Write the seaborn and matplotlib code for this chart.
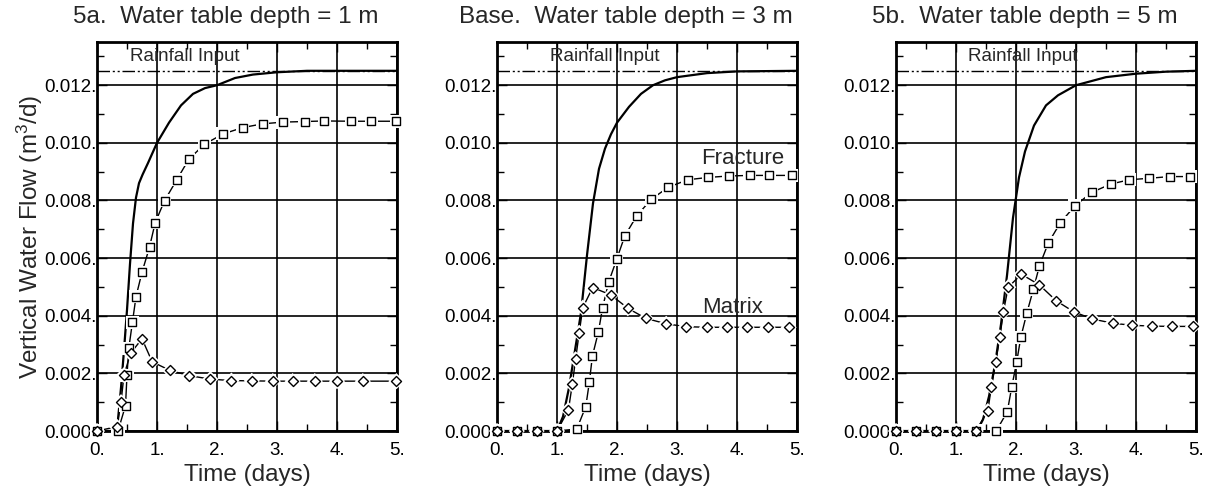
import numpy as np
import pandas as pd
import matplotlib
matplotlib.use("Agg")
import matplotlib.pyplot as plt
import seaborn as sns

# ---------------- data ----------------
titles = ["5a.  Water table depth = 1 m", "Base.  Water table depth = 3 m", "5b.  Water table depth = 5 m"]
rainfall = 0.0125

# total (solid) curves
tot_x_a = [0, 0.30, 0.35, 0.40, 0.45, 0.50, 0.55, 0.60, 0.65, 0.70, 0.76, 0.85, 1.0, 1.2, 1.4, 1.6, 1.8, 2.0, 2.3, 2.6, 3.0, 3.5, 4.0, 5.0]
tot_y_a = [0, 0, 0.0004, 0.0015, 0.0028, 0.0042, 0.0058, 0.0072, 0.0081, 0.0086, 0.0089, 0.0093, 0.0100, 0.0107, 0.0113, 0.0117, 0.0119, 0.0120, 0.01225, 0.01237, 0.01245, 0.0125, 0.0125, 0.0125]
tot_x_b = [0, 1.0, 1.1, 1.2, 1.3, 1.4, 1.5, 1.6, 1.7, 1.8, 1.9, 2.0, 2.2, 2.4, 2.6, 2.8, 3.0, 3.5, 4.0, 5.0]
tot_y_b = [0, 0, 0.0005, 0.0015, 0.0028, 0.0041, 0.0061, 0.0079, 0.0091, 0.0098, 0.0103, 0.0107, 0.01125, 0.0117, 0.0120, 0.01217, 0.01228, 0.01242, 0.01248, 0.0125]
tot_x_c = [0, 1.35, 1.45, 1.55, 1.65, 1.75, 1.85, 1.95, 2.05, 2.15, 2.3, 2.5, 2.7, 3.0, 3.5, 4.0, 4.5, 5.0]
tot_y_c = [0, 0, 0.0004, 0.0012, 0.0023, 0.0037, 0.0054, 0.0074, 0.0088, 0.0097, 0.0106, 0.0113, 0.01165, 0.0120, 0.01228, 0.0124, 0.01247, 0.0125]

# fracture (squares)
fr_x_a = [0, 0.35, 0.475, 0.50, 0.53, 0.59, 0.65, 0.75, 0.875, 0.97, 1.125, 1.33, 1.53, 1.79, 2.10, 2.43, 2.76, 3.10, 3.46, 3.79, 4.24, 4.57, 4.99]
fr_y_a = [0, 0, 0.00088, 0.00194, 0.00287, 0.00377, 0.00466, 0.00551, 0.00638, 0.00723, 0.00799, 0.00872, 0.00943, 0.00995, 0.01031, 0.01053, 0.01066, 0.01072, 0.01074, 0.01076, 0.01075, 0.01075, 0.01075]
fr_x_b = [0, 0.33, 0.66, 1.0, 1.33, 1.48, 1.54, 1.59, 1.69, 1.76, 1.86, 1.995, 2.13, 2.33, 2.57, 2.855, 3.18, 3.52, 3.86, 4.21, 4.54, 4.91]
fr_y_b = [0, 0, 0, 0, 0.00007, 0.00085, 0.00171, 0.0026, 0.00344, 0.00428, 0.00516, 0.00596, 0.00677, 0.00747, 0.00804, 0.00846, 0.00872, 0.0088, 0.00885, 0.00887, 0.00887, 0.00887]
fr_x_c = [0, 0.33, 0.67, 1.0, 1.33, 1.67, 1.855, 1.93, 2.01, 2.08, 2.18, 2.29, 2.39, 2.54, 2.74, 2.98, 3.26, 3.58, 3.89, 4.22, 4.56, 4.90]
fr_y_c = [0, 0, 0, 0, 0, 0, 0.00067, 0.00154, 0.00238, 0.00325, 0.00409, 0.00492, 0.00573, 0.00653, 0.00723, 0.00781, 0.00828, 0.00857, 0.00872, 0.00877, 0.00883, 0.00883]

# matrix (diamonds)
mx_x_a = [0, 0.33, 0.40, 0.45, 0.56, 0.75, 0.92, 1.22, 1.54, 1.89, 2.24, 2.58, 2.93, 3.26, 3.63, 4.0, 4.43, 4.99]
mx_y_a = [0, 0.00015, 0.0010, 0.00194, 0.0027, 0.0032, 0.0024, 0.0021, 0.00192, 0.0018, 0.00175, 0.00174, 0.00173, 0.00173, 0.00173, 0.00173, 0.00173, 0.00173]
mx_x_b = [0, 0.33, 0.66, 1.0, 1.19, 1.255, 1.31, 1.37, 1.43, 1.595, 1.90, 2.18, 2.48, 2.82, 3.15, 3.50, 3.83, 4.16, 4.51, 4.86]
mx_y_b = [0, 0, 0, 0, 0.00073, 0.00162, 0.00249, 0.00341, 0.00428, 0.00498, 0.00472, 0.00426, 0.00391, 0.00372, 0.00362, 0.0036, 0.0036, 0.0036, 0.0036, 0.0036]
mx_x_c = [0, 0.33, 0.67, 1.0, 1.33, 1.53, 1.59, 1.66, 1.73, 1.79, 1.87, 2.09, 2.39, 2.67, 2.96, 3.27, 3.61, 3.93, 4.26, 4.60, 4.95]
mx_y_c = [0, 0, 0, 0, 0, 0.00069, 0.00154, 0.00238, 0.00325, 0.00414, 0.00499, 0.00544, 0.00507, 0.00452, 0.00414, 0.00389, 0.00374, 0.00367, 0.00364, 0.00363, 0.00363]

rain_label_x = [1.47, 1.80, 2.12]

x_ticks = [0, 1, 2, 3, 4, 5]
x_ticklabels = ["0.", "1.", "2.", "3.", "4.", "5."]
y_ticks = [0.000, 0.002, 0.004, 0.006, 0.008, 0.010, 0.012]
y_ticklabels = ["0.000.", "0.002.", "0.004.", "0.006.", "0.008.", "0.010.", "0.012."]

panels = [
    (tot_x_a, tot_y_a, fr_x_a, fr_y_a, mx_x_a, mx_y_a),
    (tot_x_b, tot_y_b, fr_x_b, fr_y_b, mx_x_b, mx_y_b),
    (tot_x_c, tot_y_c, fr_x_c, fr_y_c, mx_x_c, mx_y_c),
]

# ---------------- style ----------------
sns.set_style("ticks")
plt.rcParams["font.family"] = ["Liberation Sans", "DejaVu Sans"]
plt.rcParams["mathtext.fontset"] = "custom"
plt.rcParams["mathtext.rm"] = "Liberation Sans"
plt.rcParams["mathtext.it"] = "Liberation Sans:italic"

fig = plt.figure(figsize=(12.12, 4.93), dpi=100)
W, H = 1212, 493
lefts = [97, 497, 896]
top_px, bot_px = 42, 431
aw = 300

for i, (tx, ty, fx, fy, mxx, mxy) in enumerate(panels):
    ax = fig.add_axes([lefts[i] / W, (H - bot_px) / H, aw / W, (bot_px - top_px) / H])
    ax.set_xlim(0, 5)
    ax.set_ylim(0, 0.0135)

    # grid
    ax.set_xticks(x_ticks)
    ax.set_yticks(y_ticks)
    ax.grid(True, which="major", color="black", linewidth=1.2)
    ax.set_axisbelow(True)

    # rainfall line
    rain_df = pd.DataFrame({"x": [0, 5], "y": [rainfall, rainfall]})
    sns.lineplot(data=rain_df, x="x", y="y", ax=ax, color="black", linewidth=1.0,
                 linestyle=(0, (9, 2, 1.5, 2, 1.5, 2)))
    ax.text(rain_label_x[i], 0.01298, "Rainfall Input", ha="center", va="center", fontsize=13.5)

    # total curve
    tdf = pd.DataFrame({"x": tx, "y": ty})
    sns.lineplot(data=tdf, x="x", y="y", ax=ax, color="black", linewidth=1.6, sort=False)

    # fracture & matrix lines with gapped markers
    for xs, ys, mk, ms in [(fx, fy, "s", 34), (mxx, mxy, "D", 26)]:
        df = pd.DataFrame({"x": xs, "y": ys})
        sns.lineplot(data=df, x="x", y="y", ax=ax, color="black", linewidth=1.0, sort=False)
        sns.scatterplot(data=df, x="x", y="y", ax=ax, marker=mk, s=ms * 2.6, color="white",
                        edgecolor="none", linewidth=0, zorder=4, clip_on=False)
        sns.scatterplot(data=df, x="x", y="y", ax=ax, marker=mk, s=ms, facecolor="white",
                        edgecolor="black", linewidth=1.0, zorder=5, clip_on=False)

    if i == 1:
        ax.text(4.1, 0.00944, "Fracture", ha="center", va="center", fontsize=16)
        ax.text(3.93, 0.0043, "Matrix", ha="center", va="center", fontsize=16)

    # ticks
    ax.set_xticklabels(x_ticklabels)
    ax.set_yticklabels(y_ticklabels)
    ax.set_xticks([0.5, 1.5, 2.5, 3.5, 4.5], minor=True)
    ax.set_yticks([0.001, 0.003, 0.005, 0.007, 0.009, 0.011, 0.013], minor=True)
    ax.tick_params(axis="both", which="both", direction="in", top=True, right=True, colors="black")
    ax.tick_params(axis="both", which="major", length=7, width=1.0, labelsize=13.5)
    ax.tick_params(axis="both", which="minor", length=5, width=1.0)
    ax.tick_params(axis="x", which="major", pad=8)
    ax.tick_params(axis="y", which="major", pad=0)
    for s in ax.spines.values():
        s.set_linewidth(2.0)
        s.set_color("black")

    ax.set_xlabel("Time (days)", fontsize=17.5)
    ax.xaxis.set_label_coords(0.5, -44 / 389)
    ax.xaxis.label.set_va("center")
    if i == 0:
        ax.set_ylabel("Vertical Water Flow (m$^3$/d)", fontsize=17.5)
        ax.yaxis.set_label_coords(-67 / 300, 0.5)
        ax.yaxis.label.set_va("center")
    else:
        ax.set_ylabel("")

    ax.text(0.43, 1.064, titles[i], transform=ax.transAxes, ha="center", va="center", fontsize=17.5)

fig.savefig("out.png", dpi=100)
